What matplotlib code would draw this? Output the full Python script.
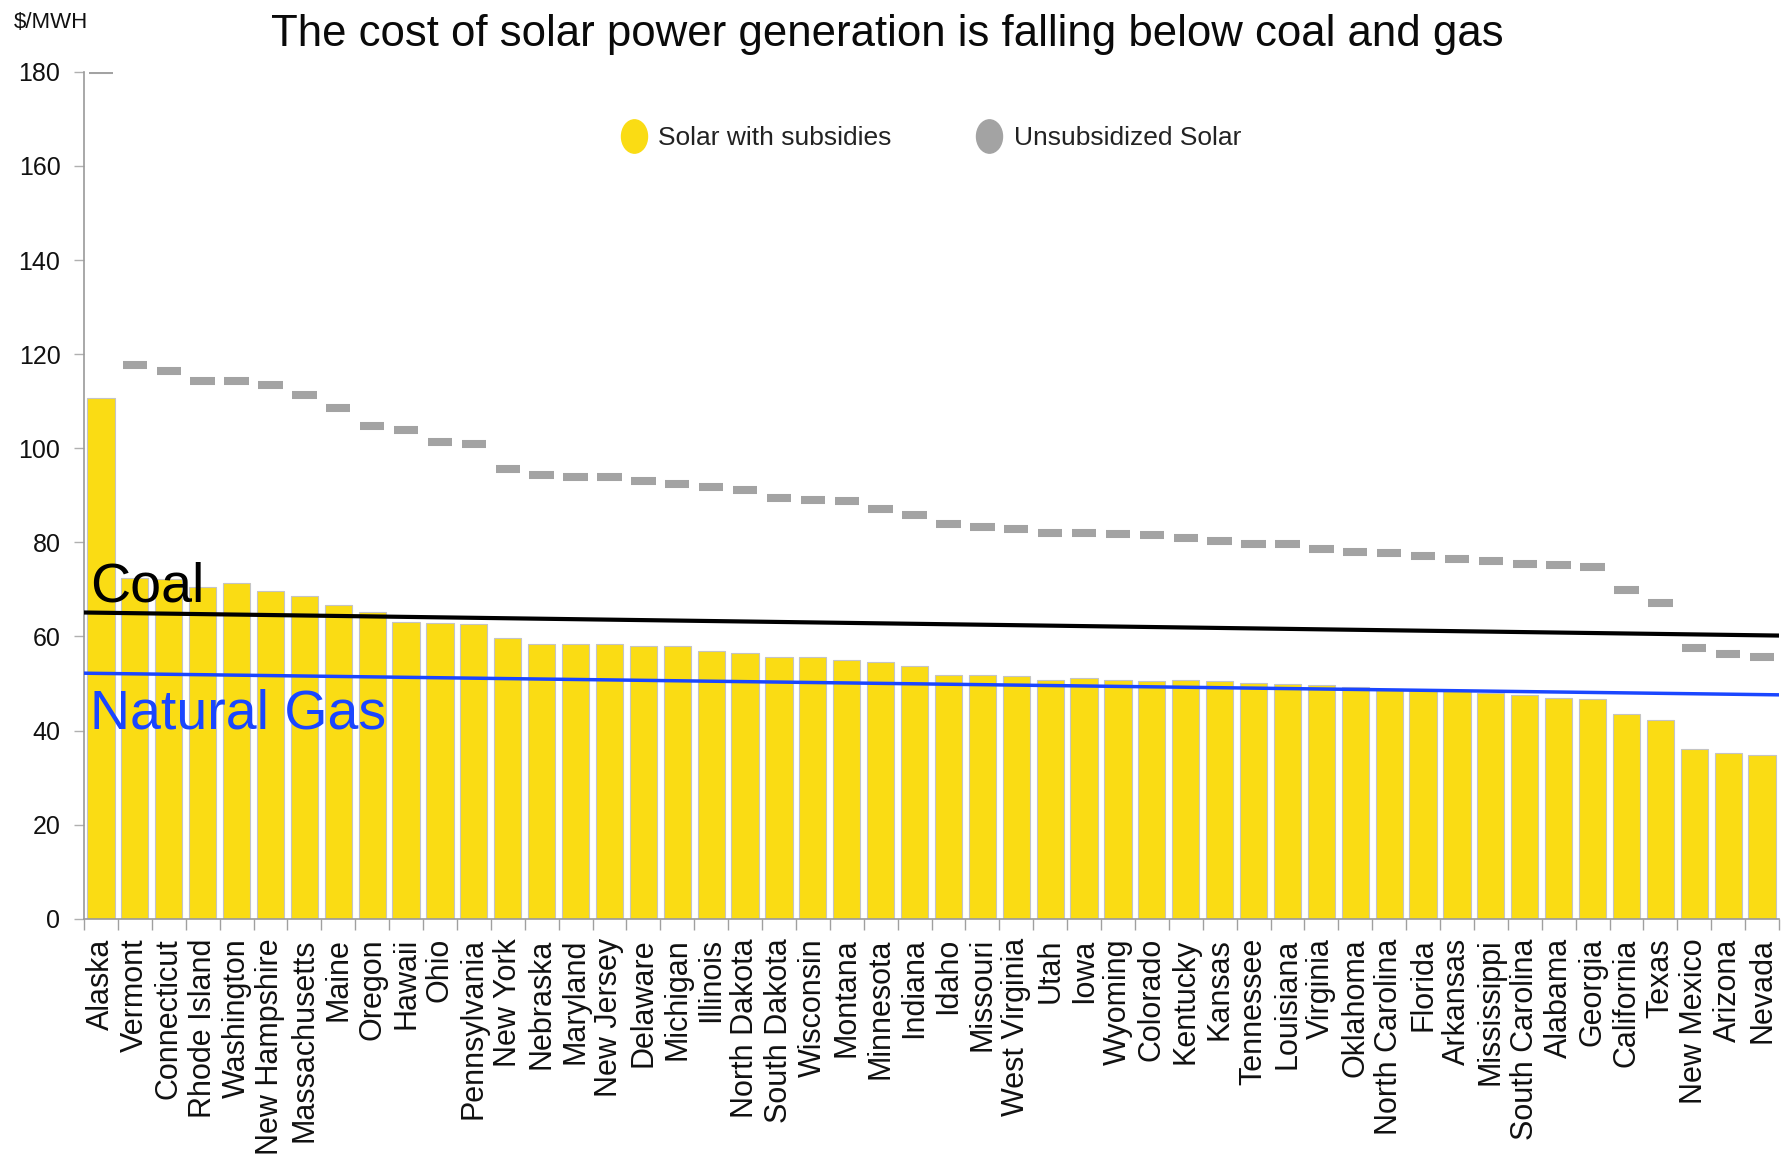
import matplotlib
matplotlib.use("Agg")
import matplotlib.pyplot as plt
from matplotlib.lines import Line2D
from matplotlib.path import Path
import matplotlib.transforms as mtransforms
import numpy as np

plt.rcParams['font.family'] = ['Liberation Sans', 'DejaVu Sans']

states = ["Alaska", "Vermont", "Connecticut", "Rhode Island", "Washington", "New Hampshire",
          "Massachusetts", "Maine", "Oregon", "Hawaii", "Ohio", "Pennsylvania", "New York",
          "Nebraska", "Maryland", "New Jersey", "Delaware", "Michigan", "Illinois",
          "North Dakota", "South Dakota", "Wisconsin", "Montana", "Minnesota", "Indiana",
          "Idaho", "Missouri", "West Virginia", "Utah", "Iowa", "Wyoming", "Colorado",
          "Kentucky", "Kansas", "Tennessee", "Louisiana", "Virginia", "Oklahoma",
          "North Carolina", "Florida", "Arkansas", "Mississippi", "South Carolina", "Alabama",
          "Georgia", "California", "Texas", "New Mexico", "Arizona", "Nevada"]

solar_subsidized = [110.6, 72.5, 72.3, 70.5, 71.4, 69.7, 68.7, 66.7, 65.2, 63.1,
                    62.8, 62.6, 59.6, 58.5, 58.5, 58.3, 57.9, 57.9, 56.9, 56.5,
                    55.7, 55.7, 55.1, 54.6, 53.7, 51.9, 51.9, 51.7, 50.8, 51.2,
                    50.8, 50.6, 50.8, 50.6, 50.2, 49.8, 49.6, 49.2, 48.8, 48.6,
                    48.4, 48.0, 47.6, 47.0, 46.7, 43.5, 42.3, 36.0, 35.2, 34.8]

solar_unsubsidized = [180.4, 117.6, 116.5, 114.4, 114.4, 113.4, 111.4, 108.5, 104.7, 103.8,
                      101.4, 101.0, 95.7, 94.3, 93.9, 93.8, 93.1, 92.5, 91.7, 91.1,
                      89.4, 89.1, 88.7, 87.2, 85.8, 83.9, 83.3, 82.9, 82.0, 82.0,
                      81.7, 81.5, 80.9, 80.3, 79.6, 79.6, 78.5, 77.9, 77.8, 77.2,
                      76.5, 76.0, 75.4, 75.2, 74.8, 69.8, 67.2, 57.5, 56.3, 55.7]

coal_cost = [65.1, 60.2]      # at left and right ends of the chart
gas_cost = [52.2, 47.6]

y_ticks = [0, 20, 40, 60, 80, 100, 120, 140, 160, 180]

YELLOW = "#fadc14"
GRAY = "#a3a3a3"
BLUE = "#1a46ff"

W, H = 1789, 1163
fig = plt.figure(figsize=(W / 100, H / 100), dpi=100)
ax = fig.add_axes([84 / W, 1 - 918.8 / H, (1779 - 84) / W, (918.8 - 71.9) / H])

x = np.arange(len(states))
ax.bar(x, solar_subsidized, width=0.8, color=YELLOW, edgecolor="#c4c4c4", linewidth=0.8, zorder=2)
ax.hlines(solar_unsubsidized, x - 0.36, x + 0.36, colors=GRAY, linewidth=5.8, zorder=3)

ends = [-0.5, len(states) - 0.5]
ax.plot(ends, coal_cost, color="black", linewidth=3.0, zorder=4, solid_capstyle="butt")
ax.plot(ends, gas_cost, color=BLUE, linewidth=2.5, zorder=4, solid_capstyle="butt")

ax.text(-0.33, 67.4, "Coal", fontsize=40, color="black", va="baseline", ha="left", zorder=5)
ax.text(-0.33, 40.5, "Natural Gas", fontsize=40, color=BLUE, va="baseline", ha="left", zorder=5)

ax.set_xlim(-0.5, len(states) - 0.5)
ax.set_ylim(0, 180)
ax.set_yticks(y_ticks)
ax.set_yticklabels([str(v) for v in y_ticks], fontsize=18, color="#111111")
ax.set_xticks(x)
ax.set_xticklabels(states, rotation=90, fontsize=22, color="#111111")
ax.set_xticks(np.arange(len(states) + 1) - 0.5, minor=True)
ax.tick_params(axis="x", which="major", length=0, pad=14)
ax.tick_params(axis="x", which="minor", length=8, color="#a0a0a0", width=1)
ax.tick_params(axis="y", which="major", length=7, color="#b0b0b0", width=1, pad=10)

for s in ["top", "right"]:
    ax.spines[s].set_visible(False)
for s in ["left", "bottom"]:
    ax.spines[s].set_color("#9a9a9a")
    ax.spines[s].set_linewidth(1.2)

# Titles
fig.text(887 / W, 1 - 46 / H, "The cost of solar power generation is falling below coal and gas",
         fontsize=31.5, ha="center", va="baseline", color="#0a0a0a")
fig.text(14 / W, 1 - 23 / H, "$/MWH", fontsize=16, ha="left", va="center", color="#111111")

# Legend with elliptical markers
ell = Path.unit_circle().transformed(mtransforms.Affine2D().scale(0.78, 1.0))
h1 = Line2D([], [], linestyle="none", marker=ell, markersize=24, color=YELLOW, markeredgecolor=YELLOW)
h2 = Line2D([], [], linestyle="none", marker=ell, markersize=24, color=GRAY, markeredgecolor=GRAY)
fig.legend([h1, h2], ["Solar with subsidies", "Unsubsidized Solar"], ncol=2,
           loc="center left", bbox_to_anchor=(621 / W, 1 - 138 / H), frameon=False,
           fontsize=19, handlelength=1.0, handletextpad=0.42, columnspacing=3.2,
           borderpad=0, borderaxespad=0, labelcolor="#222222")

fig.savefig("out.png", dpi=100, facecolor="white")
